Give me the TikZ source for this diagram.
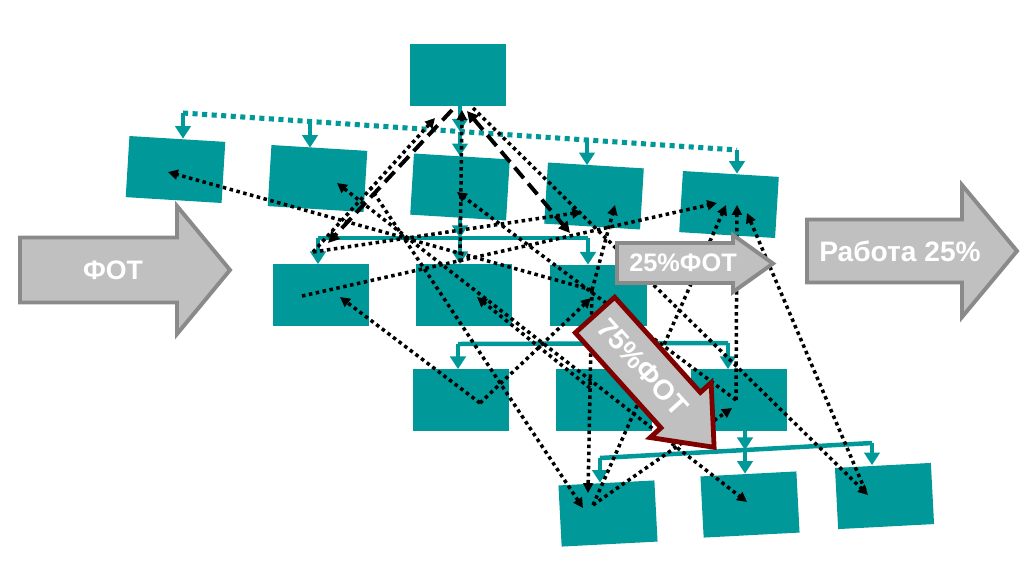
\documentclass[tikz,border=0pt]{standalone}
\usepackage{fontspec}
\setmainfont{Liberation Sans}
\usetikzlibrary{arrows.meta}
\definecolor{boxteal}{RGB}{0,152,152}
\definecolor{arrgray}{RGB}{192,192,192}
\definecolor{arredge}{RGB}{138,138,138}
\definecolor{arrred}{RGB}{128,0,0}

\begin{document}
\begin{tikzpicture}[x=0.025cm,y=-0.025cm]
\tikzstyle{every node}+=[inner sep=0pt]
\tikzstyle{box}=[fill=boxteal,minimum width=2.4cm,minimum height=1.53cm]
\tikzstyle{bus}=[boxteal,line width=3.2pt]
\tikzstyle{drop}=[boxteal,line width=3.2pt,-{Triangle[length=9pt,width=11pt]}]
\tikzstyle{topbus}=[boxteal,line width=3.6pt,dash pattern=on 3.6pt off 3.2pt]
\tikzstyle{link}=[black,line width=2.5pt,dash pattern=on 2.5pt off 2.5pt,-{Triangle[length=7pt,width=7pt]}]
\tikzstyle{longdash}=[black,line width=2.8pt,dash pattern=on 10pt off 5pt,-{Triangle[length=8pt,width=8pt]}]
\tikzstyle{bigarrow}=[fill=arrgray,draw=arredge,line width=2.8pt,line join=miter]
\tikzstyle{arrtext}=[text=white,font=\bfseries]
\useasboundingbox (0,0) rectangle (1024,581);
\node[box] (top) at (458,75) {};
\node[box,rotate=-3.5] (b1) at (175.5,169.5) {};
\node[box,rotate=-3.5] (b2) at (317.5,178.5) {};
\node[box,rotate=-3.5] (b3) at (460,187) {};
\node[box,rotate=-3.5] (b4) at (594,196) {};
\node[box,rotate=-3.5] (b5) at (729,204.5) {};
\node[box] (A) at (321,295) {};
\node[box] (B) at (464,295) {};
\node[box] (C) at (598.5,295.5) {};
\node[box] (D) at (461,400) {};
\node[box] (E) at (604,400) {};
\node[box] (F) at (739,400) {};
\node[box,rotate=3] (G) at (608,513.5) {};
\node[box,rotate=3] (H) at (750,504.5) {};
\node[box,rotate=3] (I) at (884.5,496) {};
\coordinate (tbw) at (183,113);
\coordinate (tbe) at (737,150);
\coordinate (tb2) at (310,121.5);
\coordinate (tb4) at (587,140);
\coordinate (v1) at (460,131.5);
\coordinate (v2) at (460,238);
\coordinate (r3w) at (318,238);
\coordinate (r3e) at (588,238);
\coordinate (r4w) at (458,344);
\coordinate (r4e) at (728,343);
\coordinate (r5w) at (600,458);
\coordinate (r5e) at (872,443);
\coordinate (f5) at (745,450);
\draw[topbus] (tbw) -- (tbe);
\draw[drop] (tbw) -- (tbw |- b1.north);
\draw[drop] (tb2) -- (tb2 |- b2.north);
\draw[drop] (tb4) -- (tb4 |- b4.north);
\draw[drop] (tbe) -- (tbe |- b5.north);
\draw[drop] (top.south -| v1) -- (v1);
\draw[drop] (v1) -- (v1 |- b3.north);
\draw[drop] (v1 |- b3.south) -- (v2);
\draw[drop] (v2) -- (v2 |- B.north);
\draw[bus] (r3w) -- (r3e);
\draw[drop] (r3w) -- (r3w |- A.north);
\draw[drop] (r3e) -- (r3e |- C.north);
\draw[bus] (r4w) -- (r4e);
\draw[drop] (r4w) -- (r4w |- D.north);
\draw[drop] (r4e) -- (r4e |- F.north);
\draw[drop] (F.south -| f5) -- (f5);
\draw[bus] (r5w) -- (r5e);
\draw[drop] (r5w) -- (r5w |- G.north);
\draw[drop] (f5) -- (f5 |- H.north);
\draw[drop] (r5e) -- (r5e |- I.north);
\coordinate (apx) at (462,110);
\coordinate (apl) at (435,118);
\coordinate (apr) at (473,108);
\coordinate (dsl) at (452,110);
\coordinate (dsr) at (467,111);
\coordinate (hA) at (302,296);
\coordinate (hB) at (460,262);
\coordinate (hC) at (592,290);
\coordinate (hD) at (480,403);
\coordinate (hE) at (590,388);
\coordinate (hF) at (736,400);
\coordinate (hG) at (593,505);
\coordinate (hQ) at (313,252);
\coordinate (hI) at (865,490);
\coordinate (h2) at (370,187);
\coordinate (t1) at (168,172);
\coordinate (t2) at (337,183);
\coordinate (t3) at (457,192);
\coordinate (t4a) at (582,212);
\coordinate (t4b) at (615,205);
\coordinate (t5a) at (717,203);
\coordinate (t5b) at (726,205);
\coordinate (t5c) at (737,205);
\coordinate (t5d) at (747,213);
\coordinate (tA) at (340,297);
\coordinate (tB) at (477,297);
\coordinate (tC) at (591,298);
\coordinate (tF) at (732,408);
\coordinate (tG1) at (583,508);
\coordinate (tG2) at (588,493);
\coordinate (tH) at (747,502);
\coordinate (tI) at (868,495);
\coordinate (dl) at (328,243);
\coordinate (dr) at (570,233);
\draw[longdash] (dsl) -- (dl);
\draw[longdash,{Triangle[length=8pt,width=8pt]}-{Triangle[length=8pt,width=8pt]}] (dsr) -- (dr);
\draw[link] (hB) -- (apx);
\draw[link] (hQ) -- (apl);
\draw[link] (hQ) -- (t4a);
\draw[link] (apr) -- (tI);
\draw[link] (hC) -- (t1);
\draw[link] (hC) -- (t4b);
\draw[link] (hC) -- (tG2);
\draw[link,{Triangle[length=7pt,width=7pt]}-{Triangle[length=7pt,width=7pt]}] (t2) -- (tH);
\draw[link] (hE) -- (tB);
\draw[link] (hD) -- (tA);
\draw[link] (hD) -- (tC);
\draw[link] (hA) -- (t5a);
\draw[link] (hF) -- (t3);
\draw[link] (h2) -- (tG1);
\draw[link] (hG) -- (t5b);
\draw[link] (hG) -- (tF);
\draw[link] (hF) -- (t5c);
\draw[link] (hI) -- (t5d);
\draw[bigarrow] (20,237.5) -- (177,237.5) -- (177,206) -- (230,270) -- (177,334) -- (177,302.5) -- (20,302.5) -- cycle;
\node[arrtext,font=\bfseries\fontsize{19}{21}\selectfont] (fot) at (113,270) {ФОТ};
\draw[bigarrow] (807,219.5) -- (962,219.5) -- (962,185) -- (1017,251) -- (962,317) -- (962,282.5) -- (807,282.5) -- cycle;
\node[arrtext,font=\bfseries\fontsize{20}{22}\selectfont] (work) at (900,251) {Работа 25\%};
\draw[bigarrow] (617,243) -- (733,243) -- (733,235) -- (773,263.5) -- (733,292) -- (733,283) -- (617,283) -- cycle;
\node[arrtext,font=\bfseries\fontsize{18}{20}\selectfont] (fot25) at (683,263) {25\%ФОТ};
\begin{scope}[shift={(595,315)},rotate=-48]
\draw[bigarrow,draw=arrred,line width=3.4pt] (0,-26.5) -- (128,-26.5) -- (128,-41) -- (178,0) -- (128,41) -- (128,26.5) -- (0,26.5) -- cycle;
\end{scope}
\node[arrtext,rotate=-48,font=\bfseries\fontsize{20}{22}\selectfont] (fot75) at (643,367) {75\%ФОТ};
\end{tikzpicture}
\end{document}
